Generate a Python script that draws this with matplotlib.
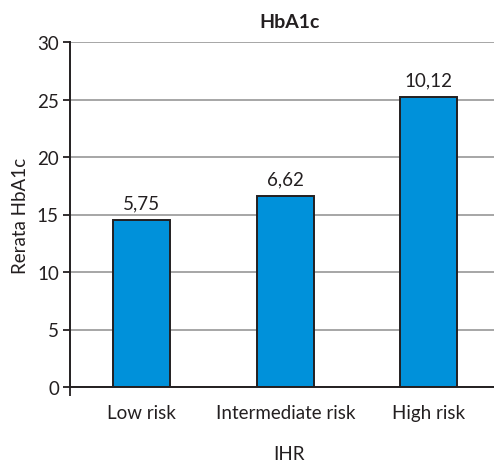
import matplotlib
matplotlib.use("Agg")
import matplotlib.pyplot as plt
from matplotlib.ticker import FixedLocator

categories = ["Low risk", "Intermediate risk", "High risk"]
bar_values = [14.55, 16.6, 25.25]
value_labels = ["5,75", "6,62", "10,12"]
yticks = [0, 5, 10, 15, 20, 25, 30]

plt.rcParams['font.family'] = ['Lato', 'DejaVu Sans']
text_color = "#231f20"
fs = 13.5

fig = plt.figure(figsize=(4.94, 4.64), dpi=100)
ax = fig.add_axes([70/494, 1-388/464, 1-70/494, (388-43)/464])

x = list(range(len(categories)))
bars = ax.bar(x, bar_values, width=0.40, color="#0091da", edgecolor=text_color,
              linewidth=1.4, zorder=3)
for b, lab in zip(bars, value_labels):
    ax.annotate(lab, (b.get_x()+b.get_width()/2, b.get_height()),
                xytext=(0, 6), textcoords="offset points", ha="center", va="bottom",
                fontsize=fs, color=text_color)

ax.set_xlim(-0.5, 2.5 - 6.5/143.5)
ax.set_ylim(0, 30)
ax.set_yticks(yticks)
ax.set_xticks(x)
ax.set_xticklabels(categories, fontsize=fs, color=text_color)
ax.xaxis.set_minor_locator(FixedLocator([-0.5]))
ax.tick_params(axis='x', which='major', length=0, pad=12)
ax.tick_params(axis='x', which='minor', length=6.5, width=1.3, color=text_color)
ax.tick_params(axis='y', length=5, width=1.3, color=text_color, labelsize=fs,
               labelcolor=text_color, pad=3)

ax.grid(axis='y', color="#a6a6a6", linewidth=1.4, zorder=0)
ax.set_axisbelow(True)
for s in ['top', 'right']:
    ax.spines[s].set_visible(False)
for s in ['left', 'bottom']:
    ax.spines[s].set_color(text_color)
    ax.spines[s].set_linewidth(1.4)
    ax.spines[s].set_zorder(4)

ax.set_ylabel("Rerata HbA1c", fontsize=fs, color=text_color, labelpad=6)
fig.text(289/494, 1-455/464, "IHR", ha="center", va="center", fontsize=fs, color=text_color)
fig.text(290/494, 1-22/464, "HbA1c", ha="center", va="center", fontsize=14,
         fontweight="bold", color=text_color)

fig.savefig("out.png", dpi=100)
